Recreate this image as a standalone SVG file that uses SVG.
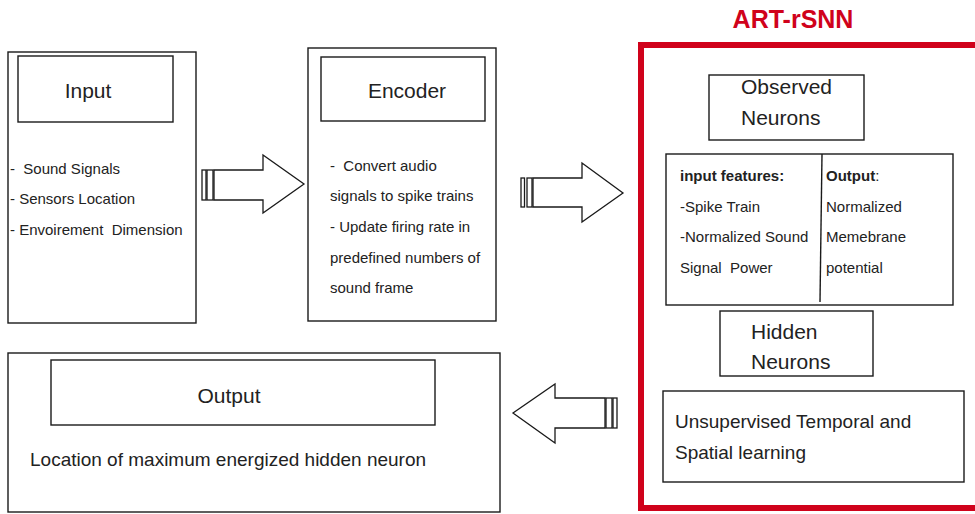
<svg xmlns="http://www.w3.org/2000/svg" width="975" height="514" viewBox="0 0 975 514">
<style>
.box{fill:#fff;stroke:#1a1a1a;stroke-width:1.4}
.arr{fill:#fff;stroke:#1a1a1a;stroke-width:1.3;stroke-linejoin:miter}
text{font-family:"Liberation Sans",Arial,sans-serif;fill:#222}
.t21{font-size:21px}
.t15{font-size:15px}
.t19{font-size:19px}
.b{font-weight:bold}
</style>
<rect width="975" height="514" fill="#fff"/>
<g id="art-rsnn">
<rect x="641" y="45" width="340" height="463" fill="none" stroke="#d0021b" stroke-width="6"/>
<text x="793" y="28" text-anchor="middle" font-size="25" font-weight="bold" style="fill:#d0021b">ART-rSNN</text>
</g>
<g id="input">
<rect class="box" x="8" y="52" width="188" height="271"/>
<rect class="box" x="18" y="56" width="155" height="66"/>
<text class="t21" x="88" y="98" text-anchor="middle">Input</text>
<text class="t15" x="10" y="174" xml:space="preserve">-  Sound Signals</text>
<text class="t15" x="10" y="204">- Sensors Location</text>
<text class="t15" x="10" y="235" xml:space="preserve">- Envoirement  Dimension</text>
</g>
<g id="encoder">
<rect class="box" x="308" y="48" width="188" height="273"/>
<rect class="box" x="321" y="57" width="164" height="64"/>
<text class="t21" x="407" y="98" text-anchor="middle">Encoder</text>
<text class="t15" x="330" y="171" xml:space="preserve">-  Convert audio</text>
<text class="t15" x="330" y="201">signals to spike trains</text>
<text class="t15" x="330" y="232">- Update firing rate in</text>
<text class="t15" x="330" y="263">predefined numbers of</text>
<text class="t15" x="330" y="293">sound frame</text>
</g>
<g id="observed">
<rect class="box" x="709" y="75" width="155" height="65"/>
<text class="t21" x="741" y="94">Observed</text>
<text class="t21" x="741" y="125">Neurons</text>
</g>
<g id="features">
<rect class="box" x="666" y="154" width="287" height="151"/>
<line x1="822" y1="154" x2="820" y2="302" stroke="#1a1a1a" stroke-width="1.4"/>
<text class="t15 b" x="680" y="181">input features:</text>
<text class="t15" x="680" y="212">-Spike Train</text>
<text class="t15" x="680" y="242">-Normalized Sound</text>
<text class="t15" x="680" y="273" xml:space="preserve">Signal  Power</text>
<text class="t15" x="826" y="181"><tspan class="b">Output</tspan>:</text>
<text class="t15" x="826" y="212">Normalized</text>
<text class="t15" x="826" y="242">Memebrane</text>
<text class="t15" x="826" y="273">potential</text>
</g>
<g id="hidden">
<rect class="box" x="720" y="311" width="153" height="65"/>
<text class="t21" x="751" y="339">Hidden</text>
<text class="t21" x="751" y="369">Neurons</text>
</g>
<g id="learning">
<rect class="box" x="663" y="391" width="301" height="91"/>
<text class="t19" x="675" y="428">Unsupervised Temporal and</text>
<text class="t19" x="675" y="459">Spatial learning</text>
</g>
<g id="output">
<rect class="box" x="8" y="353" width="492" height="159"/>
<rect class="box" x="51" y="360" width="384" height="65"/>
<text class="t21" x="229" y="403" text-anchor="middle">Output</text>
<text class="t19" x="30" y="466">Location of maximum energized hidden neuron</text>
</g>
<g id="connectors">
<g>
<rect class="arr" x="202" y="170" width="4" height="30"/>
<rect class="arr" x="207" y="170" width="6" height="30"/>
<path class="arr" d="M214 170 H263 V155 L304 184 L263 213 V200 H214 Z"/>
</g>
<g>
<rect class="arr" x="521" y="178" width="3.5" height="29"/>
<rect class="arr" x="527" y="178" width="5" height="29"/>
<path class="arr" d="M533 178 H582 V163 L623 193 L582 222 V207 H533 Z"/>
</g>
<g>
<rect class="arr" x="613" y="398" width="4" height="30"/>
<rect class="arr" x="606" y="398" width="6" height="30"/>
<path class="arr" d="M605 398 H555 V384 L513 413 L555 443 V428 H605 Z"/>
</g>
</g>
</svg>
